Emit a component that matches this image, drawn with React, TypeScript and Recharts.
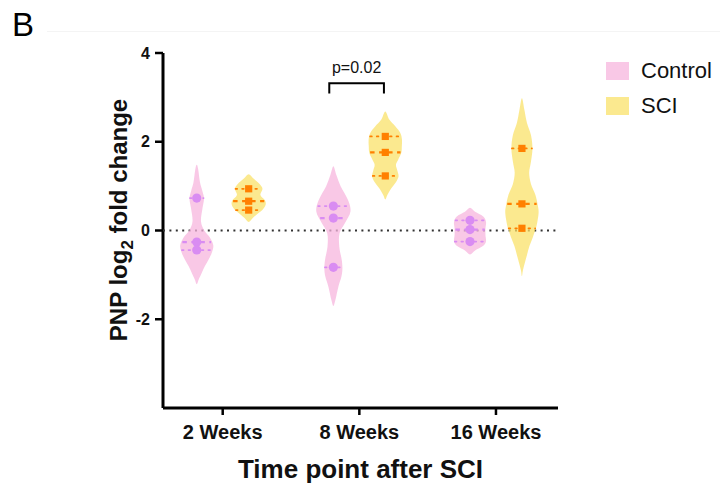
import React from "react";
import { ComposedChart, Scatter, XAxis, YAxis, Legend } from "recharts";

const FONT = '"Liberation Sans", Arial, Helvetica, sans-serif';

// categories
const weeks = ["2 Weeks", "8 Weeks", "16 Weeks"];
const groups = ["Control", "SCI"];

// individual values (log2 fold change), per week
const controlPoints = [
  [0.73, -0.26, -0.44],
  [0.55, 0.28, -0.83],
  [0.23, 0.02, -0.25],
];
const sciPoints = [
  [0.94, 0.66, 0.46],
  [2.12, 1.76, 1.23],
  [1.85, 0.6, 0.05],
];

// violin outlines: [value, half width in x units], top to bottom
const controlOutlines: [number, number][][] = [
  [[1.48, 0], [1.37, 0.011], [1.08, 0.024], [0.9, 0.04], [0.72, 0.053], [0.5, 0.042], [0.21, 0.031], [0.0, 0.055], [-0.15, 0.095], [-0.33, 0.121], [-0.5, 0.11], [-0.66, 0.086], [-0.8, 0.06], [-0.95, 0.037], [-1.1, 0.015], [-1.21, 0]],
  [[1.45, 0], [1.25, 0.022], [1.0, 0.053], [0.69, 0.107], [0.43, 0.125], [0.17, 0.085], [-0.06, 0.045], [-0.36, 0.043], [-0.66, 0.061], [-0.87, 0.066], [-1.05, 0.058], [-1.26, 0.037], [-1.56, 0.015], [-1.7, 0]],
  [[0.51, 0], [0.42, 0.037], [0.32, 0.095], [0.2, 0.117], [0.05, 0.113], [-0.1, 0.113], [-0.25, 0.117], [-0.35, 0.095], [-0.45, 0.037], [-0.54, 0]],
];
const sciOutlines: [number, number][][] = [
  [[1.27, 0], [1.17, 0.035], [1.05, 0.08], [0.94, 0.101], [0.8, 0.086], [0.68, 0.119], [0.58, 0.124], [0.47, 0.102], [0.38, 0.066], [0.28, 0.03], [0.19, 0]],
  [[2.68, 0], [2.5, 0.029], [2.35, 0.073], [2.2, 0.11], [2.05, 0.122], [1.9, 0.121], [1.75, 0.117], [1.6, 0.095], [1.48, 0.078], [1.35, 0.088], [1.22, 0.097], [1.1, 0.08], [0.95, 0.044], [0.8, 0.015], [0.7, 0]],
  [[2.98, 0], [2.72, 0.018], [2.42, 0.037], [2.15, 0.066], [1.85, 0.077], [1.55, 0.066], [1.3, 0.053], [1.05, 0.066], [0.8, 0.099], [0.55, 0.117], [0.4, 0.122], [0.2, 0.113], [0.05, 0.102], [-0.15, 0.08], [-0.35, 0.055], [-0.55, 0.037], [-0.72, 0.022], [-0.9, 0.007], [-1.03, 0]],
];

// significance bracket between the 8 week violins
const bracketX = [1.78, 2.18];
const bracketY = [3.09, 3.32];
const pLabel = "p=0.02";

const xDomain = [0.563, 3.454];
const yTicks = [4, 2, 0, -2];

const colors = {
  Control: { fill: "#f7b6dd", mark: "#d98cf2" },
  SCI: { fill: "#fae26a", mark: "#ff8000" },
};

const hidden = () => <g />;

function outlineData(center: number, profile: [number, number][]) {
  const right = profile.map(([v, w]) => ({ x: center + w, y: v }));
  const left = profile
    .slice(1, -1)
    .reverse()
    .map(([v, w]) => ({ x: center - w, y: v }));
  return [...right, ...left];
}

// closed catmull-rom through the pixel points
function closedCurve(pts: { x: number; y: number }[]) {
  const n = pts.length;
  if (n < 3) return "";
  let d = `M${pts[0].x},${pts[0].y}`;
  for (let i = 0; i < n; i++) {
    const p0 = pts[(i - 1 + n) % n];
    const p1 = pts[i];
    const p2 = pts[(i + 1) % n];
    const p3 = pts[(i + 2) % n];
    const c1x = p1.x + (p2.x - p0.x) / 6;
    const c1y = p1.y + (p2.y - p0.y) / 6;
    const c2x = p2.x - (p3.x - p1.x) / 6;
    const c2y = p2.y - (p3.y - p1.y) / 6;
    d += ` C${c1x},${c1y} ${c2x},${c2y} ${p2.x},${p2.y}`;
  }
  return d + " Z";
}

function widthAt(profile: [number, number][], v: number) {
  for (let i = 0; i < profile.length - 1; i++) {
    const [v1, w1] = profile[i];
    const [v2, w2] = profile[i + 1];
    if (v <= v1 && v >= v2) return w1 + ((v1 - v) / (v1 - v2)) * (w2 - w1);
  }
  return 0;
}

type Violin = {
  key: string;
  group: "Control" | "SCI";
  center: number;
  outline: [number, number][];
  values: number[];
};

const violins: Violin[] = [];
weeks.forEach((_, i) => {
  violins.push({ key: `c${i}`, group: "Control", center: i + 1 - 0.19, outline: controlOutlines[i], values: controlPoints[i] });
  violins.push({ key: `s${i}`, group: "SCI", center: i + 1 + 0.19, outline: sciOutlines[i], values: sciPoints[i] });
});

function LegendBox() {
  return (
    <div style={{ fontFamily: FONT }}>
      {groups.map((g) => (
        <div key={g} style={{ display: "flex", alignItems: "center", height: 35 }}>
          <div style={{ width: 23, height: 18, background: colors[g as "Control"].fill, opacity: 0.75 }} />
          <span style={{ marginLeft: 12, fontSize: 22, color: "#111" }}>{g}</span>
        </div>
      ))}
    </div>
  );
}

export default function App() {
  return (
    <div style={{ position: "absolute", left: 0, top: 0, width: 720, height: 483, background: "#fff", fontFamily: FONT }}>
      <div style={{ position: "absolute", left: 47, top: 31, width: 673, height: 1, background: "#f4f4f4" }} />
      <div style={{ position: "absolute", left: 12, top: 8, fontSize: 33, lineHeight: 1, color: "#000" }}>B</div>
      <ComposedChart width={720} height={483} margin={{ top: 53, right: 162, bottom: 25, left: 103 }}>
        <XAxis
          type="number"
          dataKey="x"
          domain={xDomain}
          ticks={[1, 2, 3]}
          allowDataOverflow
          tickFormatter={(i: number) => weeks[i - 1]}
          height={50}
          tickSize={7}
          tickMargin={10}
          axisLine={{ stroke: "#000", strokeWidth: 3 }}
          tickLine={{ stroke: "#000", strokeWidth: 2.5 }}
          tick={{ fill: "#111", fontSize: 20, fontWeight: 700, fontFamily: FONT }}
          label={{
            content: () => (
              <text x={360.5} y={478} textAnchor="middle" fontSize={26} fontWeight={700} fill="#111" fontFamily={FONT}>
                Time point after SCI
              </text>
            ),
          }}
        />
        <YAxis
          type="number"
          dataKey="y"
          domain={[-4, 4]}
          ticks={yTicks}
          allowDataOverflow
          width={60}
          tickSize={8}
          tickMargin={5}
          axisLine={{ stroke: "#000", strokeWidth: 3 }}
          tickLine={{ stroke: "#000", strokeWidth: 2.5 }}
          tick={{ fill: "#111", fontSize: 16, fontWeight: 700, fontFamily: FONT }}
          label={{
            content: () => (
              <text transform="rotate(-90)" x={-220} y={127} textAnchor="middle" fontSize={24} fontWeight={700} fill="#111" fontFamily={FONT}>
                <tspan>PNP log</tspan>
                <tspan fontSize={17} dy={6}>2</tspan>
                <tspan dy={-6}> fold change</tspan>
              </text>
            ),
          }}
        />

        {/* dotted zero line, drawn first so the violins sit on top of it */}
        <Scatter
          data={[{ x: xDomain[0], y: 0 }, { x: xDomain[1], y: 0 }]}
          shape={hidden}
          legendType="none"
          isAnimationActive={false}
          line={{ stroke: "#333", strokeWidth: 2, strokeDasharray: "2 4.4" }}
        />

        {violins.map((v) => (
          <Scatter
            key={`${v.key}-body`}
            data={outlineData(v.center, v.outline)}
            shape={hidden}
            legendType="none"
            isAnimationActive={false}
            line={(p: any) => <path d={closedCurve(p.points)} fill={colors[v.group].fill} fillOpacity={0.75} stroke="none" />}
          />
        ))}

        {violins.map((v) => {
          const sorted = [...v.values].sort((a, b) => b - a);
          return sorted.map((val, j) => {
            const hw = widthAt(v.outline, val) * 0.95;
            const median = j === 1;
            return (
              <Scatter
                key={`${v.key}-q${j}`}
                data={[{ x: v.center - hw, y: val }, { x: v.center + hw, y: val }]}
                shape={hidden}
                legendType="none"
                isAnimationActive={false}
                line={
                  median
                    ? { stroke: colors[v.group].mark, strokeWidth: 2.2, strokeDasharray: "4.5 4.5" }
                    : { stroke: colors[v.group].mark, strokeWidth: 1.8, strokeDasharray: "1.6 5", strokeLinecap: "round" }
                }
              />
            );
          });
        })}

        {violins.map((v) => (
          <Scatter
            key={`${v.key}-pts`}
            data={v.values.map((val) => ({ x: v.center, y: val }))}
            legendType="none"
            isAnimationActive={false}
            shape={(p: any) =>
              v.group === "Control" ? (
                <circle cx={p.cx} cy={p.cy} r={4.6} fill={colors.Control.mark} />
              ) : (
                <rect x={p.cx - 3.6} y={p.cy - 3.6} width={7.2} height={7.2} fill={colors.SCI.mark} />
              )
            }
          />
        ))}

        <Scatter
          data={[
            { x: bracketX[0], y: bracketY[0] },
            { x: bracketX[0], y: bracketY[1] },
            { x: bracketX[1], y: bracketY[1] },
            { x: bracketX[1], y: bracketY[0] },
          ]}
          shape={hidden}
          legendType="none"
          isAnimationActive={false}
          line={{ stroke: "#000", strokeWidth: 2 }}
        />
        <Scatter
          data={[{ x: (bracketX[0] + bracketX[1]) / 2, y: bracketY[1] }]}
          legendType="none"
          isAnimationActive={false}
          shape={(p: any) => (
            <text x={p.cx} y={p.cy - 10.5} textAnchor="middle" fontSize={16} fill="#111" fontFamily={FONT}>
              {pLabel}
            </text>
          )}
        />

        <Legend
          layout="vertical"
          align="center"
          verticalAlign="middle"
          wrapperStyle={{ position: "absolute", left: 606, top: 53, width: 110 }}
          content={() => <LegendBox />}
        />
      </ComposedChart>
    </div>
  );
}
